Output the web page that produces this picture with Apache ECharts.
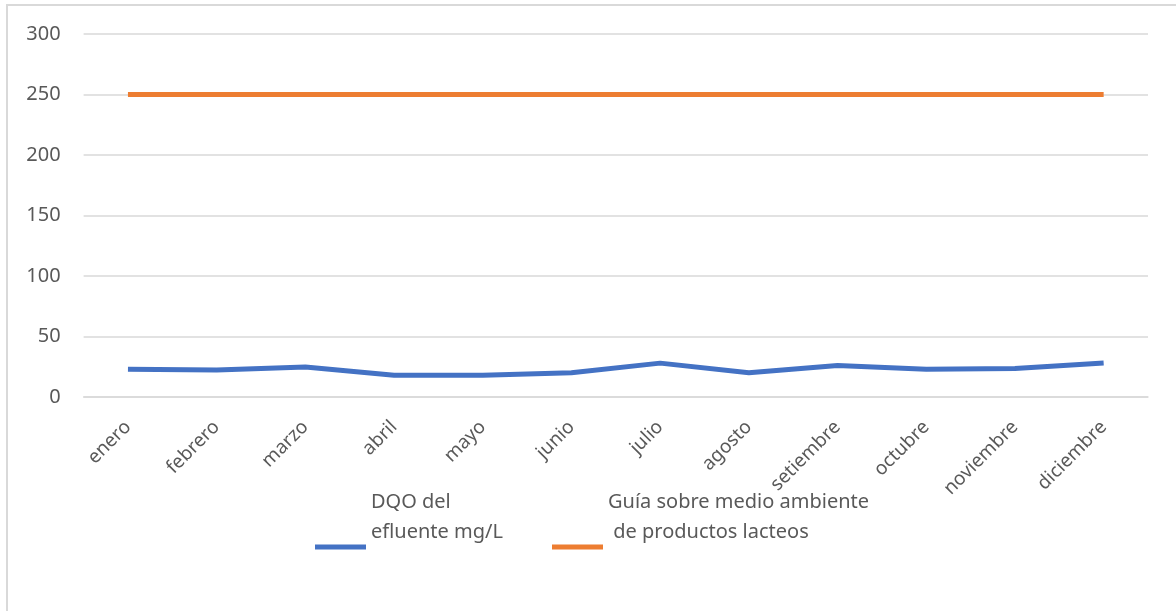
<!DOCTYPE html>
<html>
<head>
<meta charset="utf-8">
<script src="https://cdn.jsdelivr.net/npm/echarts@6/dist/echarts.min.js"></script>
<style>
  html, body { margin: 0; padding: 0; background: #ffffff; }
  #chart { width: 1176px; height: 611px; }
</style>
</head>
<body>
<div id="chart"></div>
<script>
// Monthly COD of the effluent vs. the dairy-industry guideline limit
const months = ['enero', 'febrero', 'marzo', 'abril', 'mayo', 'junio',
                'julio', 'agosto', 'setiembre', 'octubre', 'noviembre', 'diciembre'];
const dqoEfluente = [23, 22.3, 24.7, 18, 18, 20, 28, 20, 26, 23, 23.5, 28];
const guiaLimite = [250, 250, 250, 250, 250, 250, 250, 250, 250, 250, 250, 250];
const nameDqo = 'DQO del\nefluente mg/L';
const nameGuia = 'Guía sobre medio ambiente\n de productos lacteos';

const FONT = '"Noto Sans", "Open Sans", sans-serif';
const GREY = '#595959';

const chart = echarts.init(document.getElementById('chart'), null, { renderer: 'canvas' });

// Legend labels sit above the key line: two blank lines below the text
// push the two visible lines upward relative to the centred swatch.
const legendText = {
  color: GREY,
  fontFamily: FONT,
  fontSize: 20,
  lineHeight: 30
};
const liftLabel = (name) => name + '\n \n ';

chart.setOption({
  backgroundColor: '#ffffff',
  animation: false,
  graphic: [{
    type: 'rect',
    shape: { x: 7, y: 5, width: 1300, height: 800 },
    style: { fill: 'none', stroke: '#D9D9D9', lineWidth: 2 },
    silent: true
  }],
  legend: [{
    data: [nameDqo],
    left: 315,
    top: 487,
    padding: 0,
    icon: 'rect',
    itemWidth: 51,
    itemHeight: 5,
    formatter: liftLabel,
    textStyle: legendText
  }, {
    data: [nameGuia],
    left: 552,
    top: 487,
    padding: 0,
    icon: 'rect',
    itemWidth: 51,
    itemHeight: 5,
    formatter: liftLabel,
    textStyle: legendText
  }],
  grid: {
    left: 83.6,
    right: 28,
    top: 34,
    bottom: 214,
    containLabel: false
  },
  xAxis: {
    type: 'category',
    data: months,
    boundaryGap: true,
    axisLine: { show: true, lineStyle: { color: '#D9D9D9', width: 1.5 } },
    axisTick: { show: false },
    axisLabel: {
      rotate: 45,
      margin: 27,
      color: GREY,
      fontFamily: FONT,
      fontSize: 19,
      interval: 0
    },
    splitLine: { show: false }
  },
  yAxis: {
    type: 'value',
    min: 0,
    max: 300,
    interval: 50,
    axisLine: { show: false },
    axisTick: { show: false },
    axisLabel: {
      margin: 23,
      color: GREY,
      fontFamily: FONT,
      fontSize: 20
    },
    splitLine: { lineStyle: { color: '#D9D9D9', width: 1.5 } }
  },
  series: [{
    name: nameDqo,
    type: 'line',
    data: dqoEfluente,
    showSymbol: false,
    symbol: 'none',
    lineStyle: { color: '#4472C4', width: 5 },
    itemStyle: { color: '#4472C4' }
  }, {
    name: nameGuia,
    type: 'line',
    data: guiaLimite,
    showSymbol: false,
    symbol: 'none',
    lineStyle: { color: '#ED7D31', width: 5 },
    itemStyle: { color: '#ED7D31' }
  }]
});
</script>
</body>
</html>
